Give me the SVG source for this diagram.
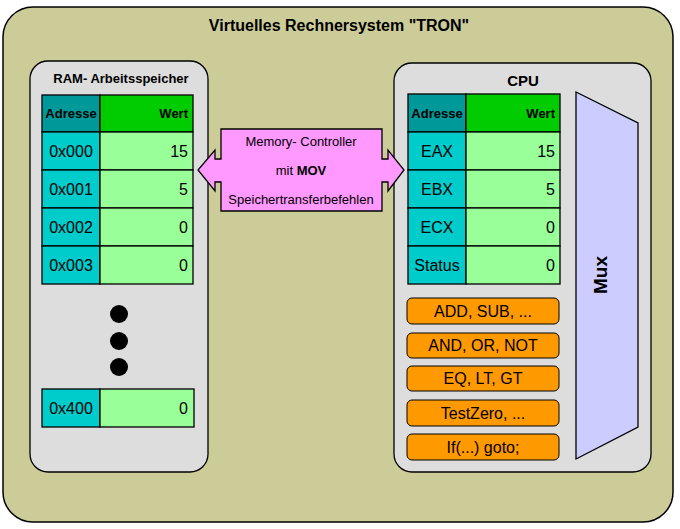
<svg xmlns="http://www.w3.org/2000/svg" width="680" height="529" viewBox="0 0 680 529">
<style>
text{font-family:"Liberation Sans",Arial,sans-serif;fill:#000}
.b{font-weight:bold}
.ln{stroke:#000;stroke-width:1.3}
.hA{fill:#009999}
.hW{fill:#00CC00}
.cA{fill:#00CCCC}
.cW{fill:#99FF99}
.cell{font-size:16px}
.hd{font-size:13px;font-weight:bold}
.op{fill:#FF9900;stroke:#000;stroke-width:1}
</style>
<rect width="680" height="529" fill="#fff"/>
<g id="system">
<rect x="3" y="7" width="670" height="515" rx="30" fill="#CCCC99" stroke="#000" stroke-width="1.5"/>
<text x="339" y="31" text-anchor="middle" class="b" font-size="16">Virtuelles Rechnersystem "TRON"</text>
</g>
<g id="ram">
<rect x="30" y="61" width="178" height="411" rx="18" fill="#DDDDDD" stroke="#000" stroke-width="1.3"/>
<text x="121" y="83" text-anchor="middle" class="b" font-size="13">RAM- Arbeitsspeicher</text>
<rect x="42" y="95" width="58" height="37" class="hA ln"/>
<rect x="100" y="95" width="93" height="37" class="hW ln"/>
<text x="71" y="118" text-anchor="middle" class="hd">Adresse</text>
<text x="188" y="118" text-anchor="end" class="hd">Wert</text>
<rect x="42" y="132" width="58" height="38" class="cA ln"/><rect x="100" y="132" width="93" height="38" class="cW ln"/>
<text x="71" y="157" text-anchor="middle" class="cell">0x000</text><text x="188" y="157" text-anchor="end" class="cell">15</text>
<rect x="42" y="170" width="58" height="38" class="cA ln"/><rect x="100" y="170" width="93" height="38" class="cW ln"/>
<text x="71" y="195" text-anchor="middle" class="cell">0x001</text><text x="188" y="195" text-anchor="end" class="cell">5</text>
<rect x="42" y="208" width="58" height="38" class="cA ln"/><rect x="100" y="208" width="93" height="38" class="cW ln"/>
<text x="71" y="233" text-anchor="middle" class="cell">0x002</text><text x="188" y="233" text-anchor="end" class="cell">0</text>
<rect x="42" y="246" width="58" height="38" class="cA ln"/><rect x="100" y="246" width="93" height="38" class="cW ln"/>
<text x="71" y="271" text-anchor="middle" class="cell">0x003</text><text x="188" y="271" text-anchor="end" class="cell">0</text>
<circle cx="119" cy="314" r="9" fill="#000"/>
<circle cx="119" cy="341" r="9" fill="#000"/>
<circle cx="119" cy="367" r="9" fill="#000"/>
<rect x="42" y="389" width="58" height="38" class="cA ln"/><rect x="100" y="389" width="94" height="38" class="cW ln"/>
<text x="71" y="414" text-anchor="middle" class="cell">0x400</text><text x="188" y="414" text-anchor="end" class="cell">0</text>
</g>
<g id="cpu">
<rect x="394" y="63" width="257" height="409" rx="18" fill="#DDDDDD" stroke="#000" stroke-width="1.3"/>
<text x="523" y="86" text-anchor="middle" class="b" font-size="15">CPU</text>
<rect x="408" y="94" width="58" height="38" class="hA ln"/>
<rect x="466" y="94" width="94" height="38" class="hW ln"/>
<text x="437" y="118" text-anchor="middle" class="hd">Adresse</text>
<text x="555" y="118" text-anchor="end" class="hd">Wert</text>
<rect x="408" y="132" width="58" height="38" class="cA ln"/><rect x="466" y="132" width="94" height="38" class="cW ln"/>
<text x="437" y="157" text-anchor="middle" class="cell">EAX</text><text x="555" y="157" text-anchor="end" class="cell">15</text>
<rect x="408" y="170" width="58" height="38" class="cA ln"/><rect x="466" y="170" width="94" height="38" class="cW ln"/>
<text x="437" y="195" text-anchor="middle" class="cell">EBX</text><text x="555" y="195" text-anchor="end" class="cell">5</text>
<rect x="408" y="208" width="58" height="38" class="cA ln"/><rect x="466" y="208" width="94" height="38" class="cW ln"/>
<text x="437" y="233" text-anchor="middle" class="cell">ECX</text><text x="555" y="233" text-anchor="end" class="cell">0</text>
<rect x="408" y="246" width="58" height="38" class="cA ln"/><rect x="466" y="246" width="94" height="38" class="cW ln"/>
<text x="437" y="271" text-anchor="middle" class="cell">Status</text><text x="555" y="271" text-anchor="end" class="cell">0</text>
</g>
<g id="ops">
<rect x="407" y="298" width="152" height="26" rx="5" class="op"/>
<text x="483" y="317" text-anchor="middle" class="cell">ADD, SUB, ...</text>
<rect x="407" y="333" width="152" height="25" rx="5" class="op"/>
<text x="483" y="351" text-anchor="middle" class="cell">AND, OR, NOT</text>
<rect x="407" y="366" width="152" height="25" rx="5" class="op"/>
<text x="483" y="384" text-anchor="middle" class="cell">EQ, LT, GT</text>
<rect x="407" y="400" width="152" height="26" rx="5" class="op"/>
<text x="483" y="419" text-anchor="middle" class="cell">TestZero, ...</text>
<rect x="407" y="434" width="152" height="26" rx="5" class="op"/>
<text x="483" y="453" text-anchor="middle" class="cell">If(...) goto;</text>
</g>
<g id="mux">
<polygon points="576,92 638,123 638,427 576,459" fill="#CCCCFF" stroke="#000" stroke-width="1.3"/>
<text transform="translate(607,275) rotate(-90)" text-anchor="middle" class="b" font-size="19">Mux</text>
</g>
<g id="connectors">
<g id="memory-controller">
<polygon points="221,129 382,129 382,159 388,159 388,150 404,170 388,191 388,182 382,182 382,211 221,211 221,182 215,182 215,191 198,170 215,150 215,159 221,159" fill="#FF99FF" stroke="#000" stroke-width="1.3"/>
<text x="301" y="146" text-anchor="middle" font-size="13" fill="#222">Memory- Controller</text>
<text x="301" y="175" text-anchor="middle" font-size="13" fill="#222">mit <tspan font-weight="bold">MOV</tspan></text>
<text x="301" y="204" text-anchor="middle" font-size="13" fill="#222">Speichertransferbefehlen</text>
</g>
</g>
</svg>
